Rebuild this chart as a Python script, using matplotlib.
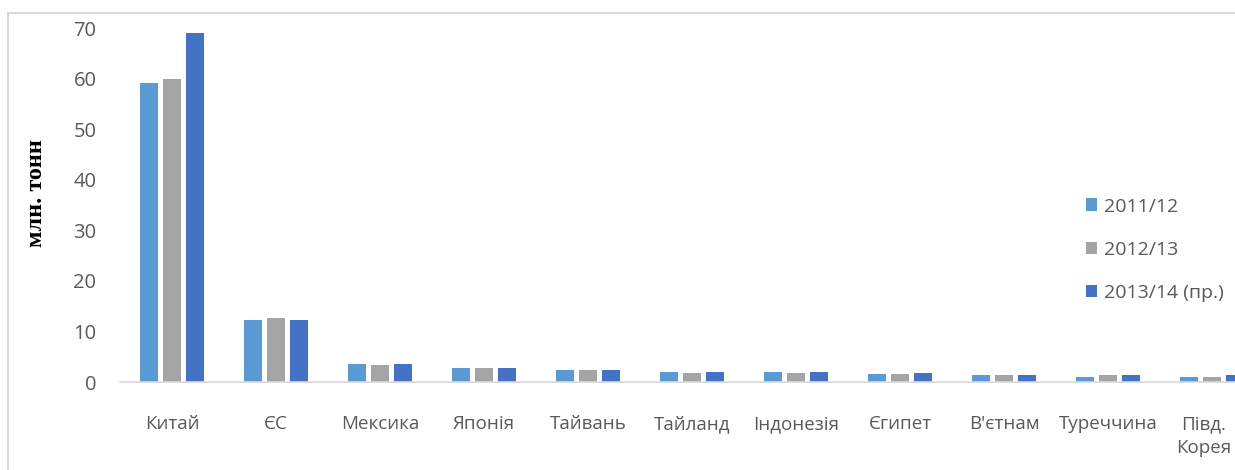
import matplotlib.pyplot as plt
import matplotlib.patches as mpatches
import matplotlib.transforms as mtransforms
import numpy as np

# data (млн. тонн)
countries = ['Китай', 'ЄС', 'Мексика', 'Японія', 'Тайвань', 'Тайланд',
             'Індонезія', 'Єгипет', "В'єтнам", 'Туреччина', 'Півд.\nКорея']
seasons = ['2011/12', '2012/13', '2013/14 (пр.)']
v_2011 = [59.1, 12.3, 3.6, 2.8, 2.3, 2.0, 2.0, 1.5, 1.3, 1.05, 1.05]
v_2012 = [59.9, 12.6, 3.4, 2.8, 2.3, 1.8, 1.8, 1.5, 1.3, 1.3, 1.05]
v_2013 = [69.0, 12.3, 3.6, 2.8, 2.3, 2.0, 2.0, 1.8, 1.3, 1.3, 1.3]
colors = ['#5B9BD5', '#A5A5A5', '#4472C4']

plt.rcParams['font.family'] = ['Open Sans', 'DejaVu Sans']
txt = '#595959'

fig = plt.figure(figsize=(12.35, 4.7), dpi=100)
# light frame round the chart area
fig.patches.append(mpatches.Rectangle((8 / 1235, -0.1), 1.2, 1 - 13 / 470 + 0.1,
                                      transform=fig.transFigure, fill=False,
                                      edgecolor='#D9D9D9', linewidth=1.5))
ax = fig.add_axes([120 / 1235, 1 - 382 / 470, 1144 / 1235, 354 / 470])

x = np.arange(len(countries))
w = 0.175
step = 0.22
for i, (vals, lab) in enumerate(zip([v_2011, v_2012, v_2013], seasons)):
    ax.bar(x + (i - 1) * step, vals, width=w, color=colors[i], label=lab)

ax.set_xlim(-0.5, len(countries) - 0.5)
ax.set_ylim(0, 70)
ax.set_yticks(range(0, 71, 10))
ax.set_xticks(x)
ax.set_xticklabels(countries, linespacing=1.4)
ax.tick_params(axis='y', length=0, pad=17, labelsize=14.5, labelcolor=txt)
ax.tick_params(axis='x', length=0, pad=24, labelsize=13.5, labelcolor=txt)
for s in ['top', 'right', 'left']:
    ax.spines[s].set_visible(False)
ax.spines['bottom'].set_color('#D9D9D9')
ax.spines['bottom'].set_linewidth(1.2)

# last label sits at the right edge; nudge it in a little
last = ax.get_xticklabels()[-1]
last.set_transform(last.get_transform() +
                   mtransforms.ScaledTranslation(-8 / 100, 0, fig.dpi_scale_trans))

fig.text(36 / 1235, 1 - 193 / 470, 'млн. тонн', rotation=90, ha='center', va='center',
         family='Liberation Serif', fontweight='bold', fontsize=17.5, color='black')

fig.legend(loc='upper left', bbox_to_anchor=(1068 / 1235, 1 - 180 / 470),
           frameon=False, fontsize=14, handlelength=0.6, handleheight=0.6,
           handletextpad=0.35, labelspacing=1.3, labelcolor=txt)

fig.savefig('out.png', dpi=100)
